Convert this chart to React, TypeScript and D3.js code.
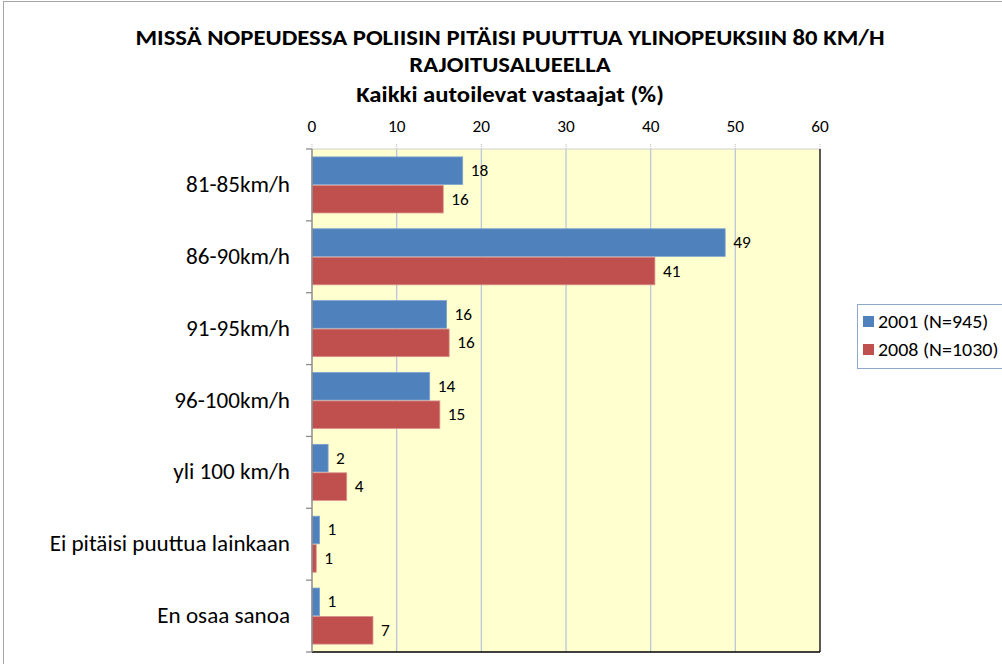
import React from "react";
import * as d3 from "d3";

const categories = ["81-85km/h", "86-90km/h", "91-95km/h", "96-100km/h", "yli 100 km/h", "Ei pitäisi puuttua lainkaan", "En osaa sanoa"];
const series2001 = [17.8, 48.8, 15.9, 13.9, 1.9, 0.9, 0.9];
const series2008 = [15.5, 40.5, 16.2, 15.1, 4.1, 0.5, 7.2];
const labels2001 = ["18", "49", "16", "14", "2", "1", "1"];
const labels2008 = ["16", "41", "16", "15", "4", "1", "7"];
const seriesNames = ["2001 (N=945)", "2008 (N=1030)"];
const xTicks = [0, 10, 20, 30, 40, 50, 60];
const titleLines = ["MISSÄ NOPEUDESSA POLIISIN PITÄISI PUUTTUA YLINOPEUKSIIN 80 KM/H", "RAJOITUSALUEELLA", "Kaikki autoilevat vastaajat (%)"];

const colors = ["#4F81BD", "#C0504D"];
const font = "Carlito, Calibri, Lato, sans-serif";
const SX = 1.08;

function Txt(props: { x: number; y: number; size: number; anchor?: string; bold?: boolean; children: React.ReactNode }) {
  return (
    <text
      transform={`translate(${props.x},${props.y}) scale(${SX},1)`}
      textAnchor={props.anchor || "start"}
      fontSize={props.size}
      fontWeight={props.bold ? "bold" : "normal"}
      fill="#000"
    >
      {props.children}
    </text>
  );
}

export default function App() {
  const W = 1002, H = 664;
  const left = 312, right = 820, top = 149, bottom = 652;
  const x = d3.scaleLinear().domain([0, 60]).range([left, right]);
  const y = d3.scaleBand<string>().domain(categories).range([top, bottom]).paddingInner(0.22).paddingOuter(0.11);
  const sub = d3.scaleBand<number>().domain([0, 1]).range([0, y.bandwidth()]).paddingInner(0.03);
  const step = (bottom - top) / categories.length;
  const data = [series2001, series2008];
  const labs = [labels2001, labels2008];
  return (
    <svg width={W} height={H} style={{ position: "absolute", left: 0, top: 0, fontFamily: font }}>
      <rect x={0} y={0} width={W} height={H} fill="#fff" />
      <rect x={3.5} y={1.5} width={W + 10} height={H + 10} fill="none" stroke="#A6A6A6" strokeWidth={1} />
      {titleLines.map((t, i) => (
        <Txt key={i} x={510} y={[45, 72, 102][i]} anchor="middle" size={22.9} bold>{t}</Txt>
      ))}
      <rect x={left} y={top} width={right - left} height={bottom - top} fill="#FFFFD0" />
      {xTicks.map((t) => (
        <g key={t}>
          {t > 0 && t < 60 && <line x1={x(t)} x2={x(t)} y1={top} y2={bottom} stroke="#B9C9DA" strokeWidth={1.3} />}
          <line x1={x(t)} x2={x(t)} y1={top - 5} y2={top} stroke="#BFBFBF" strokeWidth={1} strokeDasharray="1,1" />
          <Txt x={x(t)} y={132} anchor="middle" size={16}>{t}</Txt>
        </g>
      ))}
      <line x1={left} x2={right} y1={top} y2={top} stroke="#D0D0D0" strokeWidth={1} />
      <line x1={right} x2={right} y1={top} y2={bottom} stroke="#000" strokeWidth={1.3} />
      <line x1={left} x2={right} y1={bottom} y2={bottom} stroke="#000" strokeWidth={1.3} />
      {categories.map((c, ci) => (
        <g key={c}>
          {data.map((s, si) => {
            const yy = (y(c) as number) + (sub(si) as number);
            const h = sub.bandwidth();
            return (
              <g key={si}>
                <rect x={x(0)} y={yy} width={x(s[ci]) - x(0)} height={h} fill={colors[si]} stroke={si === 0 ? "#7FA3D0" : "#D9908E"} strokeWidth={0.8} />
                <Txt x={x(s[ci]) + 8} y={yy + h / 2 + 5.5} size={16}>{labs[si][ci]}</Txt>
              </g>
            );
          })}
          <Txt x={290} y={(y(c) as number) + y.bandwidth() / 2 + 7} anchor="end" size={21.4}>{c}</Txt>
        </g>
      ))}
      {d3.range(categories.length + 1).map((i) => (
        <line key={i} x1={left - 6} x2={left} y1={top + i * step} y2={top + i * step} stroke="#8C8C8C" strokeWidth={1.3} />
      ))}
      <line x1={left} x2={left} y1={top} y2={bottom} stroke="#8C8C8C" strokeWidth={1.5} />
      <rect x={857.5} y={304.5} width={160} height={64} fill="#fff" stroke="#8EA9CC" strokeWidth={1} />
      {seriesNames.map((n, i) => (
        <g key={n}>
          <rect x={863} y={316 + i * 28} width={11} height={11} fill={colors[i]} />
          <Txt x={878} y={328 + i * 28} size={18.5}>{n}</Txt>
        </g>
      ))}
    </svg>
  );
}
